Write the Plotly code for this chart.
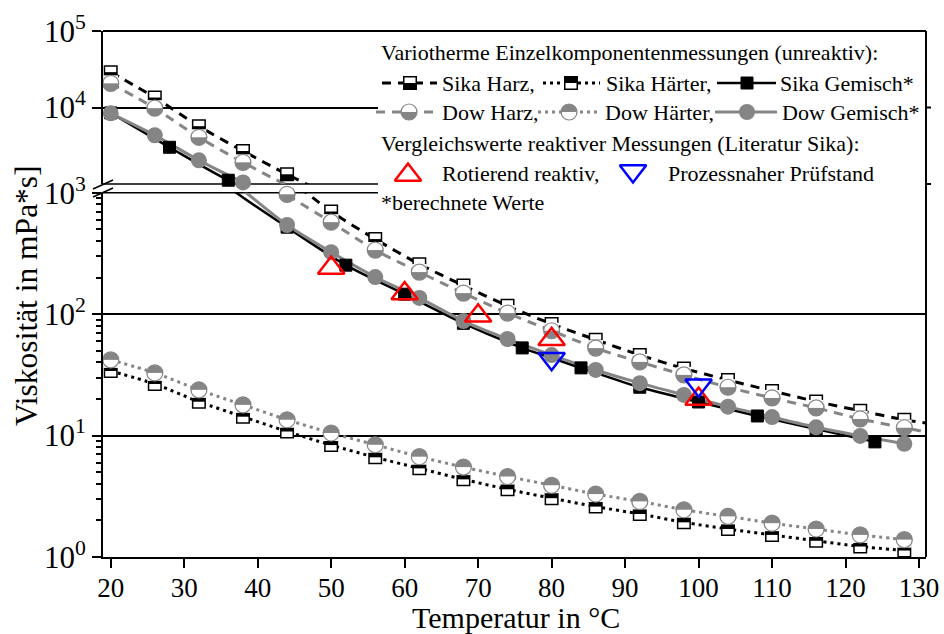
import plotly.graph_objects as go

# ---------------- data ----------------
temperature = [20, 26, 32, 38, 44, 50, 56, 62, 68, 74, 80, 86, 92, 98, 104, 110, 116, 122, 128]
sika_harz = [29000, 13500, 5700, 2700, 1340, 700, 415, 258, 172, 117, 83, 61.6, 46, 35.7, 28.7, 23.3, 19.1, 16.0, 13.5]
dow_harz = [20700, 9800, 4080, 1920, 970, 572, 337, 222, 149, 102, 73, 52.5, 40.4, 31.6, 25.0, 20.4, 16.9, 13.7, 11.6]
sika_haerter = [34, 26.6, 19.0, 14.3, 10.8, 8.35, 6.62, 5.37, 4.36, 3.61, 3.05, 2.6, 2.26, 1.93, 1.70, 1.52, 1.36, 1.22, 1.13]
dow_haerter = [42, 32.8, 23.8, 17.9, 13.5, 10.5, 8.4, 6.7, 5.5, 4.6, 3.9, 3.3, 2.87, 2.45, 2.16, 1.90, 1.70, 1.52, 1.39]
dow_gemisch = [8400, 4340, 2040, 1050, 542, 324, 202, 136, 87.7, 62.4, 46, 34.7, 27.0, 21.6, 17.3, 14.2, 11.7, 9.94, 8.55]
sika_gemisch_temperature = [20, 28, 36, 44, 52, 60, 68, 76, 84, 92, 100, 108, 116, 124]
sika_gemisch = [8500, 3020, 1120, 520, 253, 146, 84, 52.7, 36.1, 25.0, 18.9, 14.5, 11.3, 8.87]
rotierend_temperature = [50, 60, 70, 80, 100]
rotierend = [240, 148, 97, 62, 20]
pruefstand_temperature = [80, 100]
pruefstand = [43, 26]
# the fitted Harz curves reach the right frame; values read there
curve_end_temperature = 131
sika_harz_curve_end = 12.7
dow_harz_curve_end = 10.7

x_ticks = [20, 30, 40, 50, 60, 70, 80, 90, 100, 110, 120, 130]
x_tick_labels = [str(v) for v in x_ticks]
y_lower_ticks = [1, 10, 100, 1000]
y_lower_labels = ["10<sup>0</sup>", "10<sup>1</sup>", "10<sup>2</sup>", "10<sup>3</sup>"]
y_upper_ticks = [10000, 100000]
y_upper_labels = ["10<sup>4</sup>", "10<sup>5</sup>"]

# ---------------- layout geometry ----------------
W, H = 944, 634
ML, MR, MT, MB = 103, 18, 31, 77
PW, PH = W - ML - MR, H - MT - MB
FONT = "Liberation Serif, Times New Roman, serif"
GRAY = "#858585"


def px_x(px):
    return (px - ML) / PW


def px_y(py):
    return (H - MB - py) / PH


BREAK_UP, BREAK_LO = 184.0, 192.7
lower_domain = [0, px_y(BREAK_LO)]
upper_domain = [px_y(BREAK_UP), 1]

SQ = 12.5   # square side
CD = 16.0   # circle diameter

MARKERS = {
    "sq_bottom": [  # white top, black bottom
        dict(symbol="square", size=SQ, color="white", line=dict(color="black", width=1.5)),
        dict(symbol="line-ew", size=SQ / 1.4, color="black", line=dict(color="black", width=SQ / 2),
             angle=0, standoff=SQ / 4),
    ],
    "sq_top": [  # black top, white bottom
        dict(symbol="square", size=SQ, color="white", line=dict(color="black", width=1.5)),
        dict(symbol="line-ew", size=SQ / 1.4, color="black", line=dict(color="black", width=SQ / 2),
             angle=180, standoff=SQ / 4),
    ],
    "sq_full": [
        dict(symbol="square", size=SQ - 0.5, color="black", line=dict(color="black", width=1)),
    ],
    "ci_bottom": [  # white top, gray bottom
        dict(symbol="circle", size=CD, color=GRAY, line=dict(color=GRAY, width=0)),
        dict(symbol="line-ew", size=CD * 0.92 / 1.4, color="white", line=dict(color="white", width=CD / 2),
             angle=180, standoff=CD / 4),
        dict(symbol="circle-open", size=CD, color=GRAY, line=dict(color=GRAY, width=1.2)),
    ],
    "ci_top": [  # gray top, white bottom
        dict(symbol="circle", size=CD, color=GRAY, line=dict(color=GRAY, width=0)),
        dict(symbol="line-ew", size=CD * 0.92 / 1.4, color="white", line=dict(color="white", width=CD / 2),
             angle=0, standoff=CD / 4),
        dict(symbol="circle-open", size=CD, color=GRAY, line=dict(color=GRAY, width=1.2)),
    ],
    "ci_full": [
        dict(symbol="circle", size=CD, color=GRAY, line=dict(color=GRAY, width=0)),
    ],
    "tri_up": [
        dict(symbol="triangle-up-open", size=23, color="#ff0000", line=dict(color="#ff0000", width=2.5)),
    ],
    "tri_down": [
        dict(symbol="triangle-down-open", size=23, color="#0000ff", line=dict(color="#0000ff", width=2.5)),
    ],
}

SEGMENTS = [
    dict(yaxis="y", lo=1, hi=1000),
    dict(yaxis="y2", lo=1000, hi=100000),
]

DASHED = "9px,7px"
DOTTED = "3px,4px"

series = [
    dict(x=temperature + [curve_end_temperature], y=sika_harz + [sika_harz_curve_end],
         mx=temperature, my=sika_harz, color="black", width=3, dash=DASHED, kind="sq_bottom"),
    dict(x=temperature, y=sika_haerter, mx=temperature, my=sika_haerter,
         color="black", width=3, dash=DOTTED, kind="sq_top"),
    dict(x=sika_gemisch_temperature, y=sika_gemisch, mx=sika_gemisch_temperature, my=sika_gemisch,
         color="black", width=2.5, dash="solid", kind="sq_full"),
    dict(x=temperature + [curve_end_temperature], y=dow_harz + [dow_harz_curve_end],
         mx=temperature, my=dow_harz, color=GRAY, width=3, dash=DASHED, kind="ci_bottom"),
    dict(x=temperature, y=dow_haerter, mx=temperature, my=dow_haerter,
         color=GRAY, width=3, dash=DOTTED, kind="ci_top"),
    dict(x=temperature, y=dow_gemisch, mx=temperature, my=dow_gemisch,
         color=GRAY, width=3, dash="solid", kind="ci_full"),
]

fig = go.Figure()


def add_markers(xs, ys, kind, xa, ya):
    for m in MARKERS[kind]:
        fig.add_trace(go.Scatter(x=xs, y=ys, mode="markers", marker=m, cliponaxis=False,
                                 xaxis=xa, yaxis=ya, hoverinfo="skip", showlegend=False))


for seg in SEGMENTS:
    for s in series:
        fig.add_trace(go.Scatter(x=s["x"], y=s["y"], mode="lines",
                                 line=dict(color=s["color"], width=s["width"], dash=s["dash"],
                                           shape="spline", smoothing=0.8),
                                 xaxis="x", yaxis=seg["yaxis"], hoverinfo="skip", showlegend=False))
    for s in series:
        pts = [(a, b) for a, b in zip(s["mx"], s["my"]) if seg["lo"] <= b < seg["hi"]]
        if pts:
            add_markers([p[0] for p in pts], [p[1] for p in pts], s["kind"], "x", seg["yaxis"])
    for xs, ys, kind in [(rotierend_temperature, rotierend, "tri_up"),
                         (pruefstand_temperature, pruefstand, "tri_down")]:
        pts = [(a, b) for a, b in zip(xs, ys) if seg["lo"] <= b < seg["hi"]]
        if pts:
            add_markers([p[0] for p in pts], [p[1] for p in pts], kind, "x", seg["yaxis"])

# ---------------- legend (drawn on a pixel-coordinate overlay axis) ----------------
LX0 = 378
fig.add_trace(go.Scatter(x=[LX0, 926, 926, LX0, LX0], y=[33, 33, 215, 215, 33], mode="lines",
                         fill="toself", fillcolor="white", line=dict(width=0, color="white"),
                         xaxis="x3", yaxis="y3", hoverinfo="skip", showlegend=False))

legend_rows = [
    # (y, x0, x1, xm, kind, color, dash, width)
    (83, 382, 437, 410, "sq_bottom", "black", DASHED, 3),
    (83, 543, 600, 571, "sq_top", "black", DOTTED, 3),
    (83, 717, 776, 747, "sq_full", "black", "solid", 2.5),
    (112, 376, 437, 409, "ci_bottom", GRAY, DASHED, 3),
    (112, 538, 598, 569, "ci_top", GRAY, DOTTED, 3),
    (112, 715, 777, 747, "ci_full", GRAY, "solid", 3),
]
for (ly, x0, x1, xm, kind, color, dash, width) in legend_rows:
    fig.add_trace(go.Scatter(x=[x0, x1], y=[ly, ly], mode="lines",
                             line=dict(color=color, width=width, dash=dash),
                             xaxis="x3", yaxis="y3", hoverinfo="skip", showlegend=False))
    add_markers([xm], [ly], kind, "x3", "y3")
add_markers([408], [175], "tri_up", "x3", "y3")
add_markers([633], [171], "tri_down", "x3", "y3")

legend_texts = [
    (379, 52, "Variotherme Einzelkomponentenmessungen (unreaktiv):"),
    (440, 83, "Sika Harz,"),
    (604, 83, "Sika Härter,"),
    (778, 83, "Sika Gemisch*"),
    (440, 112, "Dow Harz,"),
    (603, 112, "Dow Härter,"),
    (780, 112, "Dow Gemisch*"),
    (379, 143, "Vergleichswerte reaktiver Messungen (Literatur Sika):"),
    (440, 173, "Rotierend reaktiv,"),
    (666, 173, "Prozessnaher Prüfstand"),
    (379, 202, "*berechnete Werte"),
]
annotations = [dict(x=lx, y=ly, xref="x3", yref="y3", text=t, showarrow=False,
                    xanchor="left", yanchor="middle",
                    font=dict(family=FONT, size=22, color="black"))
               for (lx, ly, t) in legend_texts]

annotations.append(dict(x=px_x(516), y=px_y(617), xref="paper", yref="paper",
                        text="Temperatur in °C", showarrow=False, xanchor="center", yanchor="middle",
                        font=dict(family=FONT, size=30, color="black")))
annotations.append(dict(x=px_x(27), y=px_y(296), xref="paper", yref="paper",
                        text="Viskosität in mPa*s]", showarrow=False, textangle=-90,
                        xanchor="center", yanchor="middle",
                        font=dict(family=FONT, size=31.5, color="black")))

minor_vals = [m * 10 ** d for d in range(0, 3) for m in range(2, 10)]

common_y = dict(type="log", anchor="x", ticks="outside", ticklen=9, tickwidth=2, tickcolor="black",
                showline=True, linecolor="black", linewidth=2, showgrid=True, gridcolor="black",
                gridwidth=1.5, zeroline=False, tickmode="array", ticklabelstandoff=0, automargin=False,
                tickfont=dict(family=FONT, size=31, color="black"))

shapes = [
    dict(type="line", xref="paper", yref="paper", x0=0, x1=1, y0=px_y(BREAK_UP), y1=px_y(BREAK_UP),
         line=dict(color="black", width=1.5), layer="below"),
    dict(type="line", xref="paper", yref="paper", x0=0, x1=1, y0=px_y(BREAK_LO), y1=px_y(BREAK_LO),
         line=dict(color="black", width=1.5), layer="below"),
    dict(type="line", xref="paper", yref="paper", x0=0, x1=1, y0=1, y1=1,
         line=dict(color="black", width=2), layer="above"),
    dict(type="line", xref="paper", yref="paper", x0=1, x1=1, y0=0, y1=1,
         line=dict(color="black", width=2), layer="above"),
    dict(type="line", xref="paper", yref="paper", x0=px_x(93), x1=px_x(113), y0=px_y(189), y1=px_y(180),
         line=dict(color="black", width=1.5), layer="above"),
    dict(type="line", xref="paper", yref="paper", x0=px_x(93), x1=px_x(113), y0=px_y(197), y1=px_y(188),
         line=dict(color="black", width=1.5), layer="above"),
    # short outward ticks on the right frame of the upper segment
    dict(type="line", xref="paper", yref="paper", x0=1, x1=px_x(931), y0=px_y(107.5), y1=px_y(107.5),
         line=dict(color="black", width=2), layer="above"),
    dict(type="line", xref="paper", yref="paper", x0=1, x1=px_x(931), y0=px_y(BREAK_UP), y1=px_y(BREAK_UP),
         line=dict(color="black", width=2), layer="above"),
]

fig.update_layout(
    width=W, height=H,
    margin=dict(l=ML, r=MR, t=MT, b=MB, pad=0, autoexpand=False),
    paper_bgcolor="white", plot_bgcolor="rgba(0,0,0,0)",
    showlegend=False,
    font=dict(family=FONT, color="black"),
    xaxis=dict(domain=[0, 1], range=[18.95, 130.95], anchor="y", tickmode="array",
               tickvals=x_ticks, ticktext=x_tick_labels, ticks="outside", ticklen=9, tickwidth=2,
               tickcolor="black", showline=True, linecolor="black", linewidth=2, showgrid=False,
               zeroline=False, ticklabelstandoff=-3, automargin=False,
               tickfont=dict(family=FONT, size=27, color="black")),
    yaxis=dict(domain=lower_domain, range=[0, 3], tickvals=y_lower_ticks, ticktext=y_lower_labels,
               minor=dict(tickmode="array", tickvals=minor_vals, ticks="outside", ticklen=5,
                          tickwidth=1.5, tickcolor="black", showgrid=False),
               **common_y),
    yaxis2=dict(domain=upper_domain, range=[3, 5], tickvals=y_upper_ticks, ticktext=y_upper_labels,
                **common_y),
    xaxis3=dict(domain=[0, 1], range=[ML, W - MR], anchor="y3", visible=False, fixedrange=True,
                automargin=False),
    yaxis3=dict(domain=[0, 1], range=[H - MB, MT], anchor="x3", visible=False, fixedrange=True,
                automargin=False),
    annotations=annotations,
    shapes=shapes,
)

fig.write_html("out.html", config={"displayModeBar": False},
               post_script="document.body.style.margin='0px';document.body.style.overflow='hidden';")
